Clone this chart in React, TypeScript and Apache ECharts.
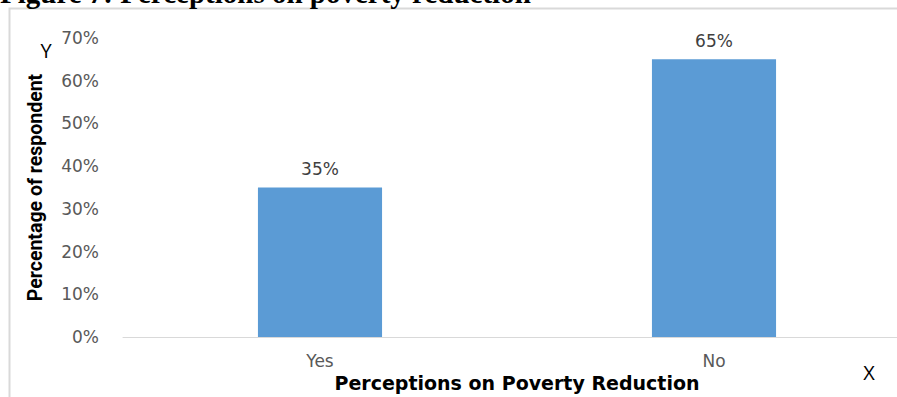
import React, { useEffect, useRef } from "react";
import * as echarts from "echarts";

const categories = ["Yes", "No"];
const values = [35, 65];
const yTicks = [0, 10, 20, 30, 40, 50, 60, 70];

export default function App() {
  const ref = useRef<HTMLDivElement>(null);
  useEffect(() => {
    if (!ref.current) return;
    const chart = echarts.init(ref.current, undefined, { renderer: "svg" });
    chart.setOption({
      animation: false,
      backgroundColor: "#ffffff",
      grid: { left: 123, width: 788, top: 38, bottom: 60, outerBoundsMode: "none", containLabel: false },
      xAxis: {
        type: "category",
        data: categories,
        axisLine: { show: true, lineStyle: { color: "#d9d9d9", width: 1 } },
        axisTick: { show: false },
        axisLabel: { color: "#595959", fontSize: 17, fontFamily: "DejaVu Sans", margin: 15 },
        name: "Perceptions on Poverty Reduction",
        nameLocation: "middle",
        nameGap: 36,
        nameTextStyle: { color: "#000000", fontSize: 19, fontWeight: "bold", fontFamily: "DejaVu Sans" },
      },
      yAxis: {
        type: "value",
        min: yTicks[0],
        max: yTicks[yTicks.length - 1],
        interval: 10,
        splitLine: { show: false },
        axisLine: { show: false },
        axisTick: { show: false },
        axisLabel: { color: "#595959", fontSize: 17, fontFamily: "DejaVu Sans", margin: 24, formatter: (v: number) => v + "%" },
        name: "Percentage of respondent",
        nameLocation: "middle",
        nameRotate: 90,
        nameGap: 78,
        nameTextStyle: { color: "#000000", fontSize: 19.5, fontWeight: "bold", fontFamily: "Liberation Sans Narrow, Roboto, sans-serif" },
      },
      series: [
        {
          type: "bar",
          data: values,
          barWidth: "31.5%",
          itemStyle: { color: "#5b9bd5" },
          label: {
            show: true,
            position: "top",
            distance: 10,
            color: "#404040",
            fontSize: 17,
            fontFamily: "DejaVu Sans",
            formatter: (p: any) => p.value + "%",
          },
        },
      ],
      graphic: [
        { type: "rect", shape: { x: 9.5, y: 8.5, width: 1000, height: 500 }, style: { fill: "none", stroke: "#d9d9d9", lineWidth: 2 }, silent: true },
        { type: "text", x: 0, y: 7, style: { text: "Figure 7: Perceptions on poverty reduction", fontFamily: "Liberation Serif, serif", fontWeight: "bold", fontSize: 29, fill: "#000", textVerticalAlign: "bottom" } },
        { type: "text", x: 46, y: 50, style: { text: "Y", fontFamily: "Open Sans", fontSize: 20, fill: "#000", textAlign: "center", textVerticalAlign: "middle" } },
        { type: "text", x: 869, y: 372, style: { text: "X", fontFamily: "Open Sans", fontSize: 20, fill: "#000", textAlign: "center", textVerticalAlign: "middle" } },
      ],
    });
    return () => chart.dispose();
  }, []);
  return <div ref={ref} style={{ width: 897, height: 397, position: "absolute", left: 0, top: 0 }} />;
}
